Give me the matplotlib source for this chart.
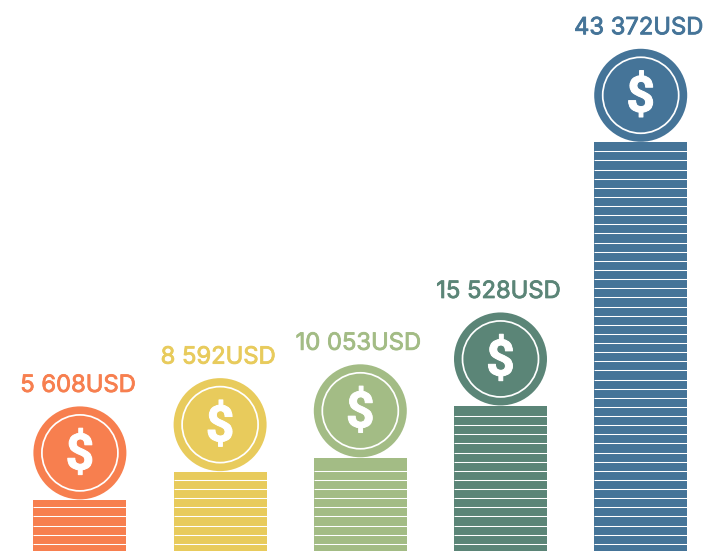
#!/usr/bin/env python3
import matplotlib
matplotlib.use("Agg")
import matplotlib.pyplot as plt
import matplotlib.patheffects as pe
from matplotlib.transforms import offset_copy

values = [5608, 8592, 10053, 15528, 43372]
labels = ["5 608USD", "8 592USD", "10 053USD", "15 528USD", "43 372USD"]
colors = ["#F77F4F", "#E8CB5C", "#A3BC85", "#5B8577", "#457498"]
coin_step = 964  # one stripe of the stack, in USD

plt.rcParams["font.family"] = ["Inter", "DejaVu Sans"]


def main():
    fig = plt.figure(figsize=(7.03, 5.51), dpi=100)
    ax = fig.add_axes([0, 0, 1, 1])
    ax.set_xlim(-79.9 / 140.2, (703 - 79.9) / 140.2)
    ax.set_ylim(211, 58395)
    ax.axis("off")

    width = 93 / 140.2
    xs = list(range(len(values)))
    ax.bar(xs, values, width=width, color=colors, linewidth=0)

    # white gaps between the coins, none right under the top edge
    for x, v in zip(xs, values):
        levels = [k * coin_step for k in range(1, 60) if k * coin_step < v - 600]
        ax.hlines(levels, x - width / 2, x + width / 2, color="white", lw=0.75)

    # coin sits on top of the stack, 47 px up to its centre
    coin_trans = offset_copy(ax.transData, fig=fig, y=47, units="dots")
    ax.scatter(xs, values, s=(93 * 0.72) ** 2, c=colors, linewidths=0,
               transform=coin_trans, clip_on=False, zorder=3)
    ax.scatter(xs, values, s=(76 * 0.72) ** 2, facecolors="none", edgecolors="white",
               linewidths=1.25, transform=coin_trans, zorder=4)

    for x, v, lab, c in zip(xs, values, labels, colors):
        d = ax.annotate("$", (x, v), xytext=(0, 44), textcoords="offset pixels",
                        ha="center", va="center", color="white",
                        fontsize=36, fontweight="bold", family="Roboto", zorder=5)
        d.set_path_effects([pe.withStroke(linewidth=0.7, foreground="white")])
        t = ax.annotate(lab, (x - 0.015, v), xytext=(0, 114), textcoords="offset pixels",
                        ha="center", va="center", color=c,
                        fontsize=17.1, zorder=5)
        t.set_path_effects([pe.withStroke(linewidth=0.6, foreground=c)])

    plt.savefig("out.png", dpi=100, facecolor="white")


if __name__ == "__main__":
    main()
